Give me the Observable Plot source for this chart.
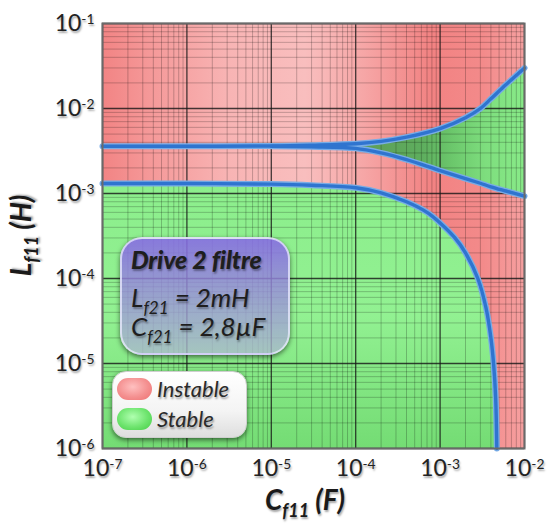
<!DOCTYPE html>
<html><head><meta charset="utf-8">
<script src="https://cdn.jsdelivr.net/npm/d3@7"></script>
<script src="https://cdn.jsdelivr.net/npm/@observablehq/plot@0.6"></script>
<style>
body{margin:0;background:#fff;}
#wrap{position:relative;width:547px;height:531px;overflow:hidden;font-family:Lato,"Open Sans",sans-serif;}
#wrap svg text{text-shadow:1px 2px 2px rgba(0,0,0,0.35);}
.box{position:absolute;left:120px;top:237px;width:170px;height:118px;border-radius:22px;box-sizing:border-box;
 background:linear-gradient(to bottom,rgba(135,105,230,0.88) 0%,rgba(150,135,220,0.82) 40%,rgba(172,186,206,0.78) 100%);
 border:2px solid rgba(235,235,255,0.75);box-shadow:0 2px 5px rgba(0,0,0,0.55);color:#1e1e1e;}
.box div{position:absolute;left:9px;white-space:nowrap;text-shadow:1px 2px 2px rgba(0,0,0,0.35);}
.box .t{top:5px;font-weight:900;font-style:italic;font-size:25px;letter-spacing:-0.2px;}
.box .p{font-style:italic;font-size:26px;}
.box sub{font-size:17px;vertical-align:-7px;}
.legend{position:absolute;left:112px;top:371px;width:135px;height:67px;border-radius:14px;box-sizing:border-box;
 background:linear-gradient(to bottom,#ffffff 0%,#f4f4f4 60%,#dedede 100%);box-shadow:0 2px 5px rgba(0,0,0,0.55);border:1px solid #cfcfcf;}
.sw{position:absolute;left:4px;width:35px;height:22px;border-radius:11px;}
.lt{position:absolute;left:44px;font-style:italic;font-size:22px;color:#2a2a2a;text-shadow:1px 2px 2px rgba(0,0,0,0.35);white-space:nowrap;}
</style></head><body>
<svg width="0" height="0" style="position:absolute">
<defs>
<linearGradient id="redGrad" x1="0" y1="0" x2="1" y2="0">
<stop offset="0" stop-color="#f28484"/><stop offset="0.12" stop-color="#f59a9a"/>
<stop offset="0.3" stop-color="#f8b4b4"/><stop offset="0.48" stop-color="#f9bebe"/>
<stop offset="0.62" stop-color="#f6a6a6"/><stop offset="0.78" stop-color="#f28282"/>
<stop offset="0.9" stop-color="#f38a8a"/><stop offset="1" stop-color="#f6a0a0"/>
</linearGradient>
<linearGradient id="greenGrad" x1="0" y1="0" x2="0" y2="1">
<stop offset="0" stop-color="#8cee8c"/><stop offset="0.5" stop-color="#92f192"/><stop offset="1" stop-color="#74dc74"/>
</linearGradient>
<linearGradient id="wedgeGrad" x1="0" y1="0" x2="1" y2="0">
<stop offset="0" stop-color="#7aa07a"/><stop offset="0.33" stop-color="#5e9a56"/>
<stop offset="0.6" stop-color="#5eae5e"/><stop offset="0.72" stop-color="#6cc86c"/>
<stop offset="0.85" stop-color="#7ede7e"/><stop offset="1" stop-color="#88ea88"/>
</linearGradient>
</defs></svg>
<div id="wrap"></div>
<script>
// ---- data ----
const xTicks = [1e-7, 1e-6, 1e-5, 1e-4, 1e-3, 1e-2];
const xTickExp = ["-7", "-6", "-5", "-4", "-3", "-2"];
const yTicks = [1e-6, 1e-5, 1e-4, 1e-3, 1e-2, 1e-1];
const yTickExp = ["-6", "-5", "-4", "-3", "-2", "-1"];

// lower stability boundary
const cLower = [1e-7, 1e-6, 1e-5, 3e-5, 1e-4, 2e-4, 4e-4, 7e-4, 1e-3, 1.5e-3, 2e-3, 2.8e-3, 3.5e-3, 4e-3, 4.3e-3, 4.55e-3, 4.7e-3];
const lLower = [1.31e-3, 1.31e-3, 1.29e-3, 1.25e-3, 1.17e-3, 1.02e-3, 8.0e-4, 6.0e-4, 4.5e-4, 3.0e-4, 2.0e-4, 1.0e-4, 4.5e-5, 2.0e-5, 1.0e-5, 4e-6, 1e-6];

// upper pair of boundaries
const cPair = [1e-7, 1e-6, 1e-5, 3e-5, 1e-4, 2e-4, 4e-4, 1e-3, 2e-3, 3e-3, 4e-3, 6e-3, 1e-2];
const lUpper = [3.6e-3, 3.6e-3, 3.62e-3, 3.7e-3, 3.85e-3, 4.1e-3, 4.6e-3, 5.8e-3, 7.8e-3, 1.0e-2, 1.3e-2, 1.9e-2, 3.0e-2];
const lMiddle = [3.6e-3, 3.6e-3, 3.6e-3, 3.55e-3, 3.4e-3, 3.0e-3, 2.5e-3, 1.86e-3, 1.5e-3, 1.32e-3, 1.2e-3, 1.07e-3, 9.3e-4];

const xTitle = ["C", "f11", " (F)"];
const yTitle = ["L", "f11", " (H)"];
const legendLabels = ["Instable", "Stable"];
const boxTitle = "Drive 2 filtre";
const boxParams = [["L", "f21", " = 2mH"], ["C", "f21", " = 2,8µF"]];

// ---- chart ----
const W = 547, H = 531, mL = 102, mR = 23, mT = 23, mB = 83;
const xDomain = [xTicks[0], xTicks[xTicks.length - 1]];
const yDomain = [yTicks[0], yTicks[yTicks.length - 1]];
const minorX = d3.scaleLog().domain(xDomain).ticks().filter(v => !xTicks.some(t => Math.abs(t - v) / t < 1e-9));
const minorY = d3.scaleLog().domain(yDomain).ticks().filter(v => !yTicks.some(t => Math.abs(t - v) / t < 1e-9));

const lower = cLower.map((c, i) => ({C: c, L: lLower[i]}));
const pair = cPair.map((c, i) => ({C: c, U: lUpper[i], M: lMiddle[i]}));
const wedge = pair.filter(d => d.C >= 1e-5);

const xFmt = d => "10^" + xTickExp[xTicks.findIndex(t => Math.abs(t - d) / t < 1e-9)];
const yFmt = d => "10^" + yTickExp[yTicks.findIndex(t => Math.abs(t - d) / t < 1e-9)];
const curve = "catmull-rom";
const lineOuter = "#78ace6", lineInner = "#2f74cf";

const chart = Plot.plot({
  width: W, height: H,
  marginLeft: mL, marginRight: mR, marginTop: mT, marginBottom: mB,
  style: {fontFamily: "Lato, 'Open Sans', sans-serif", fontSize: "23px", color: "#222", background: "transparent", overflow: "visible"},
  x: {type: "log", domain: xDomain, ticks: xTicks, tickFormat: xFmt, tickSize: 0, tickPadding: 11, label: null},
  y: {type: "log", domain: yDomain, ticks: yTicks, tickFormat: yFmt, tickSize: 0, tickPadding: 8, label: null},
  marks: [
    Plot.frame({fill: "url(#redGrad)", stroke: "none"}),
    Plot.areaY(lower, {x: "C", y1: d => yDomain[0], y2: "L", fill: "url(#greenGrad)", curve}),
    Plot.areaY(wedge, {x: "C", y1: "M", y2: "U", fill: "url(#wedgeGrad)", curve}),
    Plot.ruleX(minorX, {stroke: "#000", strokeOpacity: 0.22, strokeWidth: 1}),
    Plot.ruleY(minorY, {stroke: "#000", strokeOpacity: 0.22, strokeWidth: 1}),
    Plot.ruleX(xTicks, {stroke: "#151515", strokeOpacity: 0.8, strokeWidth: 1.3}),
    Plot.ruleY(yTicks, {stroke: "#151515", strokeOpacity: 0.8, strokeWidth: 1.3}),
    Plot.line(lower, {x: "C", y: "L", stroke: lineOuter, strokeWidth: 6, curve}),
    Plot.line(pair, {x: "C", y: "U", stroke: lineOuter, strokeWidth: 6, curve}),
    Plot.line(wedge, {x: "C", y: "M", stroke: lineOuter, strokeWidth: 6, curve}),
    Plot.line(lower, {x: "C", y: "L", stroke: lineInner, strokeWidth: 3.4, curve}),
    Plot.line(pair, {x: "C", y: "U", stroke: lineInner, strokeWidth: 3.4, curve}),
    Plot.line(wedge, {x: "C", y: "M", stroke: lineInner, strokeWidth: 3.4, curve}),
    Plot.frame({stroke: "#6a6a6a", strokeWidth: 2})
  ]
});

const wrap = document.getElementById("wrap");
wrap.appendChild(chart);
const svg = chart.tagName.toLowerCase() === "svg" ? chart : chart.querySelector("svg");
const NS = "http://www.w3.org/2000/svg";

// superscript tick labels
svg.querySelectorAll('g[aria-label^="x-axis"] text, g[aria-label^="y-axis"] text').forEach(t => {
  const s = t.textContent;
  const parts = s.split("^");
  if (parts.length !== 2) return;
  t.textContent = "";
  const a = document.createElementNS(NS, "tspan"); a.textContent = parts[0]; t.appendChild(a);
  const b = document.createElementNS(NS, "tspan"); b.textContent = parts[1];
  b.setAttribute("dy", "-0.5em"); b.setAttribute("font-size", "0.6em"); t.appendChild(b);
  t.setAttribute("fill", "#222");
});

// axis titles with subscripts
function title(parts, x, y, rotate) {
  const t = document.createElementNS(NS, "text");
  t.setAttribute("text-anchor", "middle");
  t.setAttribute("font-weight", "700");
  t.setAttribute("font-style", "italic");
  t.setAttribute("font-size", "28px");
  t.setAttribute("fill", "#1a1a1a");
  t.setAttribute("transform", `translate(${x},${y})` + (rotate ? " rotate(-90)" : ""));
  const a = document.createElementNS(NS, "tspan"); a.textContent = parts[0]; t.appendChild(a);
  const b = document.createElementNS(NS, "tspan"); b.textContent = parts[1];
  b.setAttribute("font-size", "18px"); b.setAttribute("dy", "7"); t.appendChild(b);
  const c = document.createElementNS(NS, "tspan"); c.textContent = parts[2];
  c.setAttribute("dy", "-7"); t.appendChild(c);
  svg.appendChild(t);
}
const cx = mL + (W - mL - mR) / 2;
const cy = mT + (H - mT - mB) / 2;
title(xTitle, cx - 8, H - 21, false);
title(yTitle, 31, cy, true);

// annotation box
const box = document.createElement("div");
box.className = "box";
box.innerHTML = `<div class="t">${boxTitle}</div>` +
  boxParams.map((p, i) => `<div class="p" style="top:${42 + i * 29}px">${p[0]}<sub>${p[1]}</sub>${p[2]}</div>`).join("");
wrap.appendChild(box);

// legend
const leg = document.createElement("div");
leg.className = "legend";
const swBg = ["radial-gradient(ellipse at 45% 40%, #ffc0c0 0%, #f49090 55%, #ee7070 100%)",
              "radial-gradient(ellipse at 45% 40%, #b0ffb0 0%, #6ee46e 55%, #44cc44 100%)"];
leg.innerHTML = legendLabels.map((l, i) =>
  `<div class="sw" style="top:${6 + i * 30}px;background:${swBg[i]}"></div><div class="lt" style="top:${3 + i * 30}px">${l}</div>`).join("");
wrap.appendChild(leg);
</script>
</body></html>
